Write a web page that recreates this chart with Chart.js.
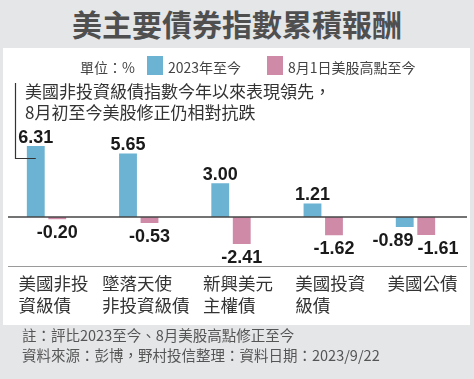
<!DOCTYPE html>
<html><head><meta charset="utf-8">
<script src="https://cdn.jsdelivr.net/npm/chart.js@4/dist/chart.umd.min.js"></script>
<style>
html,body{margin:0;padding:0;}
body{width:474px;height:379px;background:#e5e6e8;position:relative;overflow:hidden;font-family:"Noto Sans CJK TC","Noto Sans",sans-serif;}
#title{position:absolute;left:0;top:0;width:474px;height:47px;line-height:47px;text-align:center;font-size:30px;font-weight:bold;color:#4f4f4f;letter-spacing:0px;}
#panel{position:absolute;left:3px;top:48px;width:467px;height:277px;background:#fff;}
#c{position:absolute;left:0;top:0;}
.t{position:absolute;white-space:nowrap;}
#unit{left:80px;top:57px;font-size:14px;line-height:20px;color:#444;}
.sw{position:absolute;width:16px;height:19px;}
#sw1{left:147px;top:56px;background:#6cb2d3;}
#sw2{left:267px;top:56px;background:#cf8aa8;}
#lg1{left:168px;top:57px;font-size:14px;line-height:20px;color:#444;}
#lg2{left:288px;top:57px;font-size:14px;line-height:20px;color:#444;}
#note{left:25px;top:80px;font-size:17px;line-height:21px;color:#333;}
#foot{left:22px;top:325px;font-size:14.5px;line-height:20px;color:#555;}
</style>
</head><body>
<div id="title">美主要債券指數累積報酬</div>
<div id="panel"></div>
<canvas id="c" width="474" height="379"></canvas>
<div class="t" id="unit">單位：%</div>
<div class="sw" id="sw1"></div><div class="t" id="lg1"></div>
<div class="sw" id="sw2"></div><div class="t" id="lg2"></div>
<div class="t" id="note">美國非投資級債指數今年以來表現領先，<br>8月初至今美股修正仍相對抗跌</div>
<div class="t" id="foot">註：評比2023至今、8月美股高點修正至今<br>資料來源：彭博，野村投信整理：資料日期：2023/9/22</div>
<script>
const categories = [["美國非投","資級債"],["墜落天使","非投資級債"],["新興美元","主權債"],["美國投資","級債"],["美國公債"]];
const seriesNames = ["2023年至今","8月1日美股高點至今"];
const ytdValues = [6.31, 5.65, 3.00, 1.21, -0.89];
const sinceAugValues = [-0.20, -0.53, -2.41, -1.62, -1.61];
const yMin = -3, yMax = 7;

document.getElementById('lg1').textContent = seriesNames[0];
document.getElementById('lg2').textContent = seriesNames[1];

const BLUE = '#6cb2d3', PINK = '#cf8aa8';

const decor = {
  id: 'decor',
  afterDatasetsDraw(chart) {
    const ctx = chart.ctx;
    const y = chart.scales.y, x = chart.scales.x;
    const zero = y.getPixelForValue(0);
    ctx.save();
    // zero line
    ctx.strokeStyle = '#444'; ctx.lineWidth = 1.3;
    ctx.beginPath(); ctx.moveTo(8, zero); ctx.lineTo(467, zero); ctx.stroke();
    // bottom separator
    ctx.strokeStyle = '#9a9a9a'; ctx.lineWidth = 1;
    ctx.beginPath(); ctx.moveTo(8, 266.5); ctx.lineTo(467, 266.5); ctx.stroke();
    // bracket to first bar
    const first = chart.getDatasetMeta(0).data[0];
    ctx.strokeStyle = '#333'; ctx.lineWidth = 1.2;
    ctx.beginPath(); ctx.moveTo(15.5, 83); ctx.lineTo(15.5, first.y + 12.5); ctx.lineTo(first.x, first.y + 12.5); ctx.stroke();

    // value labels
    ctx.font = 'bold 18px "Liberation Sans", Arial, sans-serif';
    ctx.fillStyle = '#1a1a1a';
    ctx.textBaseline = 'alphabetic';
    ctx.textAlign = 'center';
    const m0 = chart.getDatasetMeta(0).data, m1 = chart.getDatasetMeta(1).data;
    const d0 = chart.data.datasets[0].data, d1 = chart.data.datasets[1].data;
    for (let i = 0; i < d0.length; i++) {
      const items = [[m0[i], d0[i]], [m1[i], d1[i]]].map(([el, v]) => {
        const txt = v.toFixed(2);
        const w = ctx.measureText(txt).width;
        const ty = v >= 0 ? el.y - 3 : el.y + 6 + 13;
        return {txt, w, x: el.x, y: ty, neg: v < 0};
      });
      // avoid overlap when both labels sit below zero
      if (items[0].neg && items[1].neg) {
        const need = (items[0].w + items[1].w) / 2 + 4;
        const sep = items[1].x - items[0].x;
        if (sep < need) { const s = (need - sep) / 2; items[0].x -= s; items[1].x += s; }
      }
      items.forEach(it => ctx.fillText(it.txt, it.x, it.y));
    }

    // category labels (left aligned blocks)
    ctx.font = '17.5px "Noto Sans CJK TC", sans-serif';
    ctx.fillStyle = '#333';
    ctx.textAlign = 'left';
    ctx.textBaseline = 'middle';
    chart.data.labels.forEach((lines, i) => {
      const maxW = Math.max(...lines.map(l => ctx.measureText(l).width));
      const left = x.getPixelForValue(i) - maxW / 2 + 7;
      lines.forEach((l, k) => ctx.fillText(l, left, 283 + k * 22));
    });
    ctx.restore();
  }
};

new Chart(document.getElementById('c'), {
  type: 'bar',
  data: {
    labels: categories,
    datasets: [
      {label: seriesNames[0], data: ytdValues, backgroundColor: BLUE, borderWidth: 0},
      {label: seriesNames[1], data: sinceAugValues, backgroundColor: PINK, borderWidth: 0}
    ]
  },
  options: {
    responsive: false,
    devicePixelRatio: 1,
    animation: false,
    layout: {padding: {left: 0.4, right: 12.4, top: 138.25, bottom: 128.25}},
    datasets: {bar: {categoryPercentage: 0.466, barPercentage: 0.83}},
    scales: {
      x: {display: false, offset: true},
      y: {display: false, min: yMin, max: yMax}
    },
    plugins: {legend: {display: false}, tooltip: {enabled: false}}
  },
  plugins: [decor]
});
</script>
</body></html>
